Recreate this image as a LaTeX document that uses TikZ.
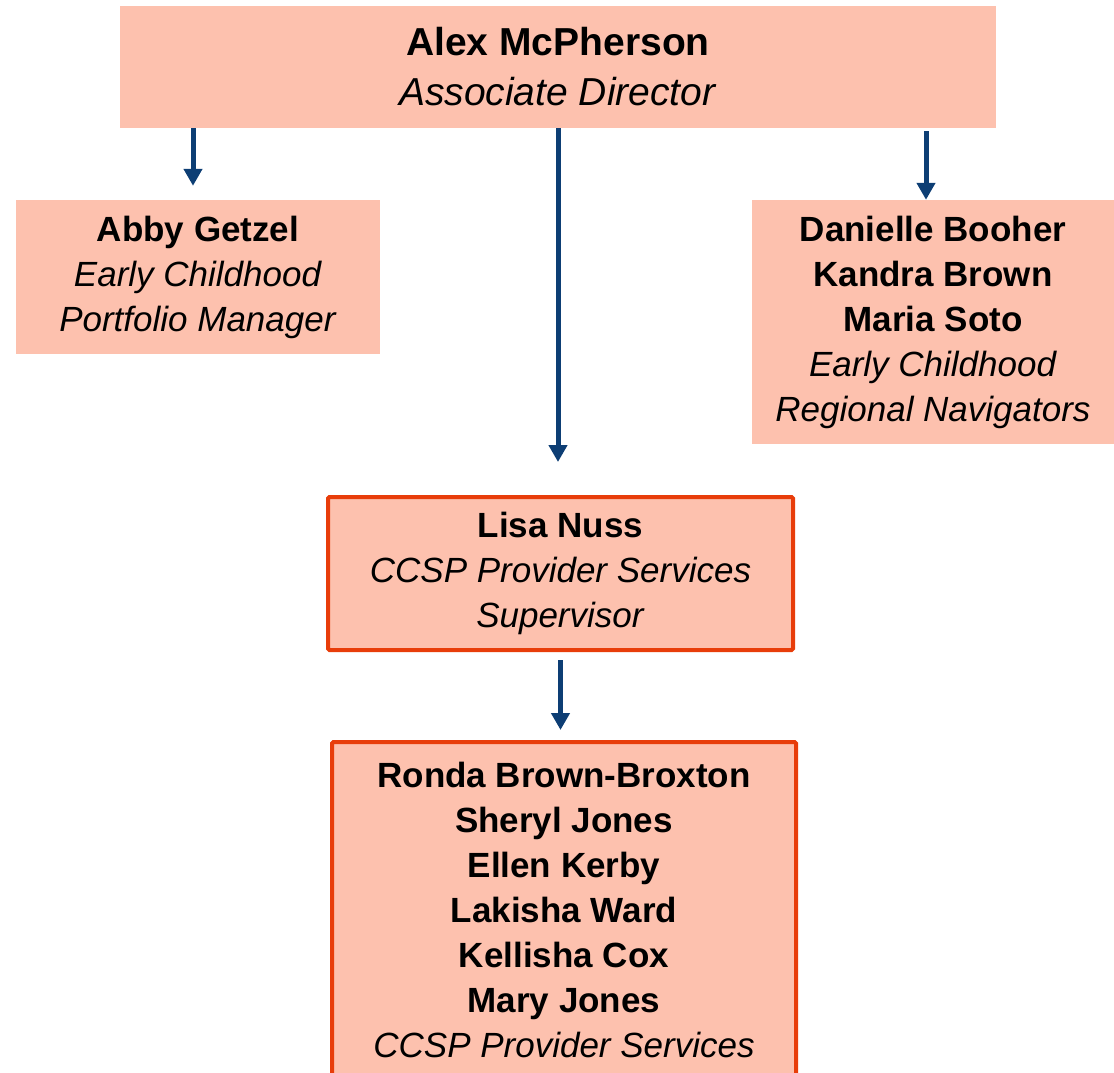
\documentclass[tikz,border=0pt]{standalone}
\usepackage{fontspec}
\setmainfont{Liberation Sans}
\usetikzlibrary{arrows.meta,positioning}
\definecolor{boxfill}{HTML}{FDC1AE}
\definecolor{boxline}{HTML}{E83D0A}
\definecolor{arrowblue}{HTML}{0D3E74}

\begin{document}
\begin{tikzpicture}[x = 1pt, y = -1pt, role/.style = {rectangle, fill = boxfill, align = center, inner sep = 0pt, font = \fontsize{35}{45}\selectfont}, framed/.style = {role, draw = boxline, line width = 4pt, rounded corners = 1.5pt}, link/.style = {-{Triangle[width=18pt,length=17pt]}, draw = arrowblue, line width = 5pt}]
	\useasboundingbox (0,0) rectangle (1114,1072);
	\clip (0,0) rectangle (1114,1072);

	\node[role, minimum width = 876pt, minimum height = 122pt, font = \fontsize{39}{50}\selectfont](director) at (558,67){\textbf{Alex McPherson}\\\textit{Associate Director}};
	\node[role, minimum width = 364pt, minimum height = 154pt](abby) at (198,277){\textbf{Abby Getzel}\\\textit{Early Childhood}\\\textit{Portfolio Manager}};
	\node[role, minimum width = 362pt, minimum height = 244pt](navs) at (933,322){\textbf{Danielle Booher}\\\textbf{Kandra Brown}\\\textbf{Maria Soto}\\\textit{Early Childhood}\\\textit{Regional Navigators}};
	\node[framed, minimum width = 465pt, minimum height = 153pt](lisa) at (560.5,573.5){\textbf{Lisa Nuss}\\\textit{CCSP Provider Services}\\\textit{Supervisor}};
	\node[framed, minimum width = 464pt, minimum height = 335pt](staff) at (564,909.5){\textbf{Ronda Brown-Broxton}\\\textbf{Sheryl Jones}\\\textbf{Ellen Kerby}\\\textbf{Lakisha Ward}\\\textbf{Kellisha Cox}\\\textbf{Mary Jones}\\\textit{CCSP Provider Services}};

	\draw[link, shorten >=14pt]([xshift = -5pt]abby.north |- director.south) -- ([xshift = -5pt]abby.north);
	\draw[link, shorten >=33pt](director.south) -- (director.south |- lisa.north);
	\draw[link, shorten <=3pt]([xshift = -7pt]navs.north |- director.south) -- ([xshift = -7pt]navs.north);
	\draw[link, shorten <=8pt, shorten >=10pt](lisa.south) -- (lisa.south |- staff.north);

\end{tikzpicture}
\end{document}
